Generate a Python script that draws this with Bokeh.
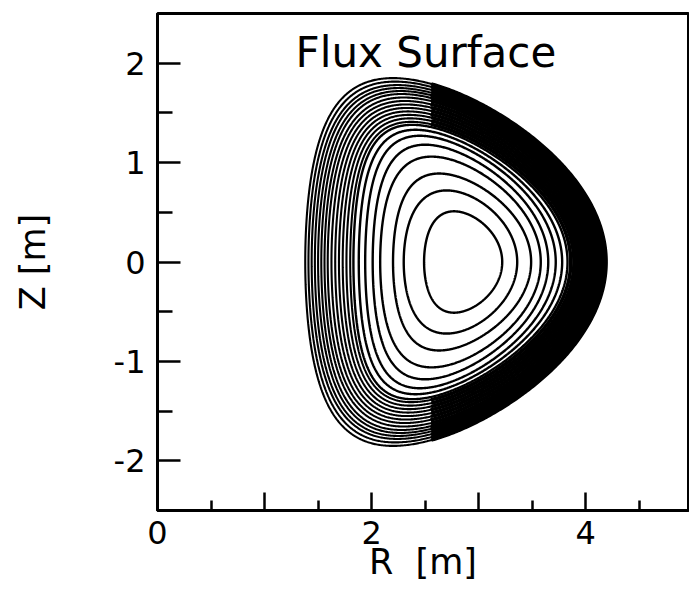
import numpy as np
from bokeh.plotting import figure
from bokeh.models import FixedTicker, Label, Range1d
from bokeh.embed import file_html
from bokeh.resources import INLINE

# ---- data (metres) ----
# each flux surface: inner midplane R, outer midplane R, top Z, R at the top
r_inner = [2.49, 2.30, 2.20, 2.08, 2.01, 1.94, 1.88, 1.83,
           1.80, 1.765, 1.73, 1.695, 1.66, 1.625, 1.59, 1.56, 1.53, 1.50, 1.47, 1.44, 1.41, 1.38]
r_outer = [3.22, 3.36, 3.49, 3.58, 3.65, 3.72, 3.78, 3.83,
           3.86, 3.89, 3.915, 3.94, 3.965, 3.99, 4.015, 4.04, 4.065, 4.09, 4.115, 4.14, 4.165, 4.19]
z_top = [0.51, 0.72, 0.89, 1.06, 1.18, 1.27, 1.33, 1.38,
         1.41, 1.445, 1.48, 1.515, 1.55, 1.585, 1.62, 1.655, 1.69, 1.72, 1.75, 1.78, 1.815, 1.85]
r_top = [2.77, 2.70, 2.63, 2.56, 2.50, 2.45, 2.41, 2.38,
         2.37, 2.36, 2.35, 2.34, 2.33, 2.32, 2.31, 2.30, 2.28, 2.27, 2.25, 2.24, 2.22, 2.20]
n_open_surfaces = 8          # clearly separated inner surfaces

x_ticks = [0, 1, 2, 3, 4]
x_minor_ticks = [0.5, 1.5, 2.5, 3.5, 4.5]
x_label_overrides = {0: "0", 1: "", 2: "2", 3: "", 4: "4"}
y_ticks = [-2, -1, 0, 1, 2]
y_minor_ticks = [-1.5, -0.5, 0.5, 1.5]
y_label_overrides = {-2: "-2", -1: "-1", 0: "0", 1: "1", 2: "2"}

title_text = "Flux Surface"
x_title = "R\u00a0\u00a0[m]"
y_title = "Z [m]"

FONT = "DejaVu Sans"

# ---- figure ----
p = figure(width=689, height=593, output_backend="svg", toolbar_location=None,
           x_range=Range1d(0, 4.96), y_range=Range1d(-2.5, 2.5),
           min_border_left=157, min_border_right=1, min_border_top=13, min_border_bottom=83)
p.grid.visible = False
p.outline_line_color = "black"
p.outline_line_width = 3
p.background_fill_color = "white"
p.border_fill_color = "white"

theta = np.linspace(0, 2 * np.pi, 721)
split_r = 2.55
inner_xs, inner_ys = [], []
band_xs, band_ys = [], []
thick_xs, thick_ys = [], []
for i, (ri, ro, zt, rt) in enumerate(zip(r_inner, r_outer, z_top, r_top)):
    r0 = 0.5 * (ri + ro)
    a = 0.5 * (ro - ri)
    kappa = zt / a
    delta = (r0 - rt) / a
    R = r0 + a * np.cos(theta + np.arcsin(delta) * np.sin(theta))
    Z = kappa * a * np.sin(theta)
    if i < n_open_surfaces:
        inner_xs.append(R.tolist()); inner_ys.append(Z.tolist())
    else:
        band_xs.append(R.tolist()); band_ys.append(Z.tolist())
        Rt = np.where(R > split_r, R, np.nan)
        thick_xs.append(Rt.tolist()); thick_ys.append(Z.tolist())

p.multi_line(band_xs, band_ys, line_color="black", line_width=2.1)
for xs, ys in zip(thick_xs, thick_ys):
    p.line(xs, ys, line_color="black", line_width=3.6, line_join="round")
p.multi_line(inner_xs, inner_ys, line_color="black", line_width=2.4)

p.add_layout(Label(x=1.29, y=2.11, text=title_text, text_font=FONT, text_font_size="42px",
                   text_baseline="middle", text_color="black"))

# ---- axes ----
p.xaxis.ticker = FixedTicker(ticks=x_ticks, minor_ticks=x_minor_ticks)
p.xaxis.major_label_overrides = x_label_overrides
p.yaxis.ticker = FixedTicker(ticks=y_ticks, minor_ticks=y_minor_ticks)
p.yaxis.major_label_overrides = y_label_overrides
p.xaxis.axis_label = x_title
p.yaxis.axis_label = y_title
for ax in (p.xaxis[0], p.yaxis[0]):
    ax.axis_line_width = 3
    ax.axis_line_color = "black"
    ax.major_tick_line_width = 2.5
    ax.minor_tick_line_width = 2.5
    ax.major_tick_out = 0
    ax.minor_tick_out = 0
    ax.major_label_text_font = FONT
    ax.major_label_text_font_size = "32px"
    ax.major_label_text_color = "black"
    ax.axis_label_text_font = FONT
    ax.axis_label_text_font_size = "35px"
    ax.axis_label_text_font_style = "normal"
    ax.axis_label_text_color = "black"
p.xaxis.major_tick_in = 18
p.xaxis.minor_tick_in = 10
p.yaxis.major_tick_in = 23
p.yaxis.minor_tick_in = 15
p.xaxis.major_label_standoff = 10
p.xaxis.axis_label_standoff = -5
p.yaxis.major_label_standoff = 12
p.yaxis.axis_label_standoff = 58

open("out.html", "w").write(file_html(p, INLINE))
